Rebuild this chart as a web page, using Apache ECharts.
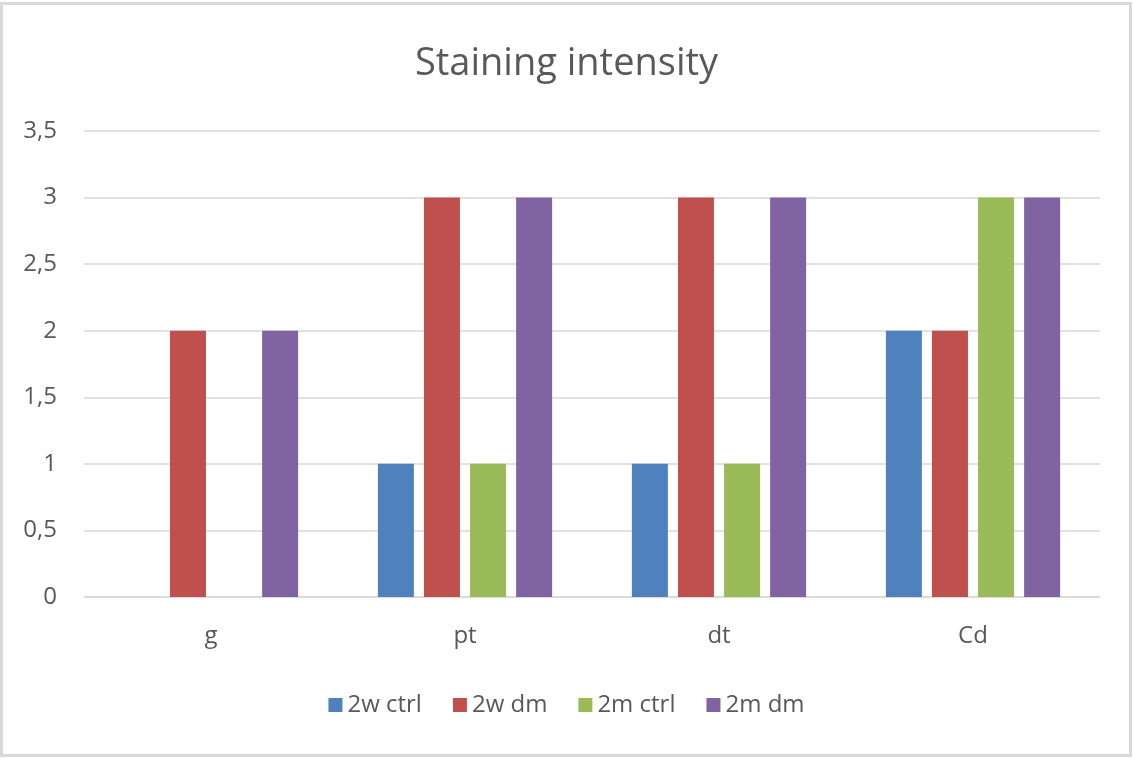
<!DOCTYPE html>
<html><head><meta charset="utf-8">
<script src="https://cdn.jsdelivr.net/npm/echarts@6/dist/echarts.min.js"></script>
<style>html,body{margin:0;padding:0;background:#fff}#c{width:1133px;height:758px}</style>
</head><body><div id="c"></div>
<script>
const categories = ['g', 'pt', 'dt', 'Cd'];
const seriesNames = ['2w ctrl', '2w dm', '2m ctrl', '2m dm'];
const s2wCtrl = [0, 1, 1, 2];
const s2wDm = [2, 3, 3, 2];
const s2mCtrl = [0, 1, 1, 3];
const s2mDm = [2, 3, 3, 3];
const colors = ['#4F81BD', '#C0504D', '#9BBB59', '#8064A2'];
const values = [s2wCtrl, s2wDm, s2mCtrl, s2mDm];
const font = 'Open Sans, Noto Sans, sans-serif';
const chart = echarts.init(document.getElementById('c'));
chart.setOption({
  animation: false,
  graphic: [{type: 'rect', shape: {x: 1.5, y: 3.5, width: 1129, height: 752}, style: {fill: 'none', stroke: '#d9d9d9', lineWidth: 3}}],
  title: {text: 'Staining intensity', left: 'center', top: 40, textStyle: {fontFamily: font, fontSize: 38, fontWeight: 'normal', color: '#595959'}},
  legend: {bottom: 36, left: 'center', itemWidth: 14, itemHeight: 14, itemGap: 31, icon: 'rect',
    textStyle: {fontFamily: font, fontSize: 24, color: '#595959'}, data: seriesNames},
  grid: {left: 84, right: 33, top: 131, bottom: 161, containLabel: false},
  xAxis: {type: 'category', data: categories, axisTick: {show: false},
    axisLine: {lineStyle: {color: '#d9d9d9', width: 1.5}},
    axisLabel: {fontFamily: font, fontSize: 24, color: '#595959', margin: 27}},
  yAxis: {type: 'value', min: 0, max: 3.5, interval: 0.5,
    axisLine: {show: false}, axisTick: {show: false},
    splitLine: {lineStyle: {color: '#d9d9d9', width: 1.5}},
    axisLabel: {fontFamily: font, fontSize: 24, color: '#595959', margin: 27,
      formatter: v => String(v).replace('.', ',')}},
  series: seriesNames.map((n, i) => ({name: n, type: 'bar', data: values[i], barWidth: 36, barGap: '28%',
    itemStyle: {color: colors[i]}}))
});
</script></body></html>
